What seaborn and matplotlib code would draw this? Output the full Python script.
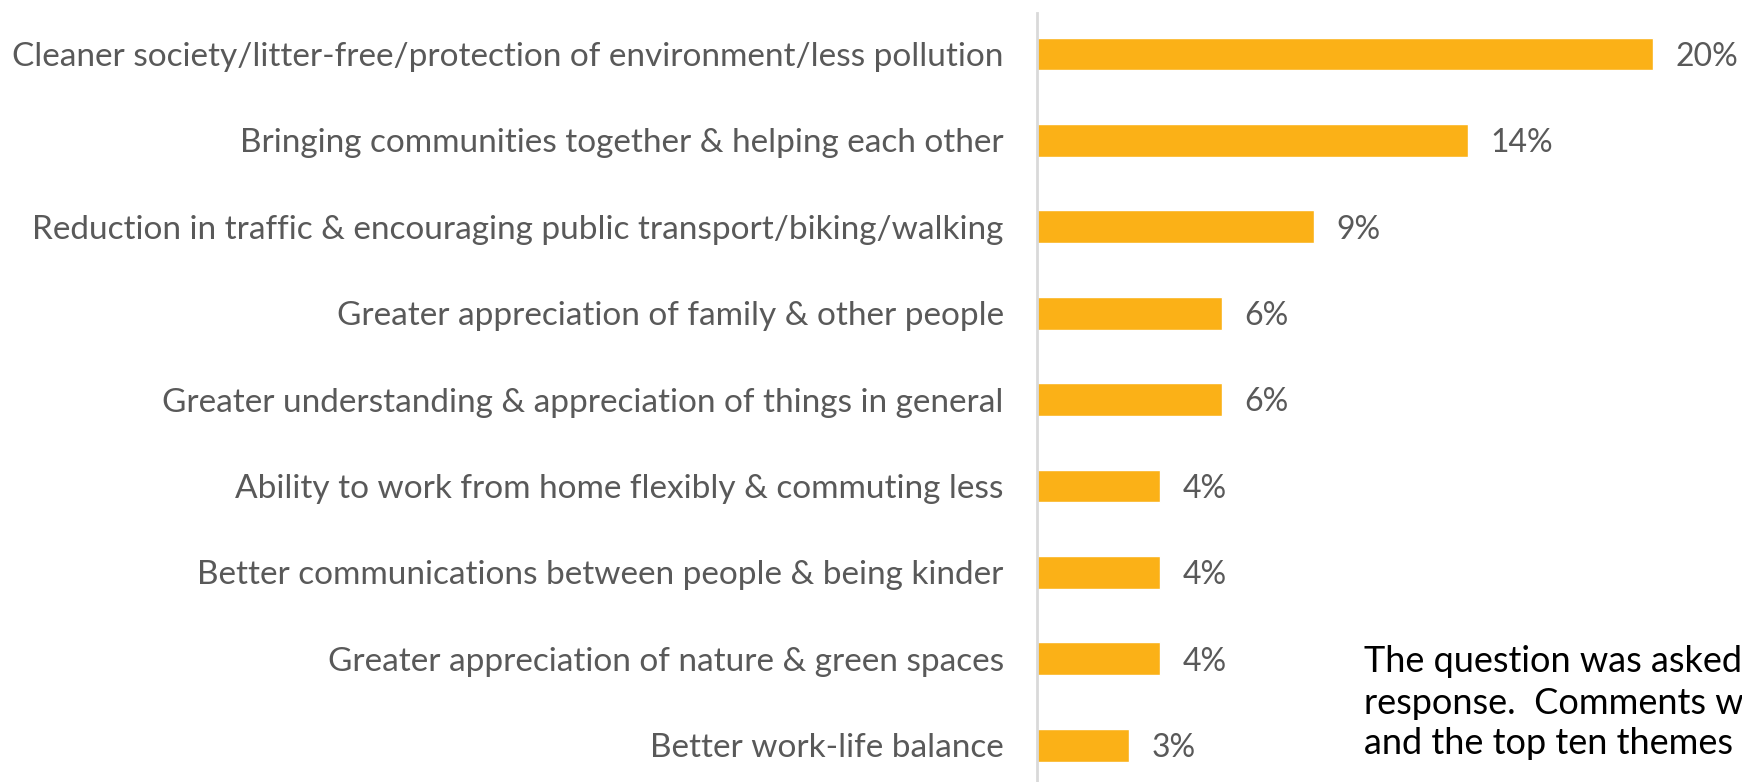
import matplotlib
matplotlib.use("Agg")
import matplotlib.pyplot as plt
import seaborn as sns
import pandas as pd

categories = [
    "Cleaner society/litter-free/protection of environment/less pollution",
    "Bringing communities together & helping each other",
    "Reduction in traffic & encouraging public transport/biking/walking",
    "Greater appreciation of family & other people",
    "Greater understanding & appreciation of things in general",
    "Ability to work from home flexibly & commuting less",
    "Better communications between people & being kinder",
    "Greater appreciation of nature & green spaces",
    "Better work-life balance",
]
values = [20, 14, 9, 6, 6, 4, 4, 4, 3]
value_labels = ["20%", "14%", "9%", "6%", "6%", "4%", "4%", "4%", "3%"]
note_lines = [
    "The question was asked",
    "response.  Comments w",
    "and the top ten themes",
]

sns.set_theme(style="white")
plt.rcParams["font.family"] = ["Lato", "DejaVu Sans"]

W, H = 1742, 782
fig = plt.figure(figsize=(W / 100, H / 100), dpi=100)
fig.patch.set_facecolor("white")

ax_left = 1037 / W
ax_top_px = 13
ax = fig.add_axes([ax_left, 0, 1 - ax_left, (H - ax_top_px) / H])

df = pd.DataFrame({"cat": categories, "val": values})
sns.barplot(data=df, y="cat", x="val", orient="h", color="#FBB117",
            saturation=1, width=0.38, ax=ax)

px_per_unit = 30.8
ax.set_xlim(0, (W - 1037) / px_per_unit)
spacing = 86.4
ax.set_ylim((H - 54) / spacing, (ax_top_px - 54) / spacing)

for s in ["top", "right", "bottom"]:
    ax.spines[s].set_visible(False)
ax.spines["left"].set_color("#d9d9d9")
ax.spines["left"].set_linewidth(2)
ax.set_xticks([])
ax.set_xlabel("")
ax.set_ylabel("")
ax.tick_params(axis="y", length=0, pad=24, labelsize=24, labelcolor="#595959")

for i, (v, lab) in enumerate(zip(values, value_labels)):
    ax.annotate(lab, xy=(v, i), xytext=(16, -2), textcoords="offset points",
                ha="left", va="center", fontsize=23, color="#595959")

for j, line in enumerate(note_lines):
    fig.text(1364 / W, 1 - (662 + 41 * j) / H, line, ha="left", va="center",
             fontsize=26, color="black")

fig.savefig("out.png", dpi=100)
